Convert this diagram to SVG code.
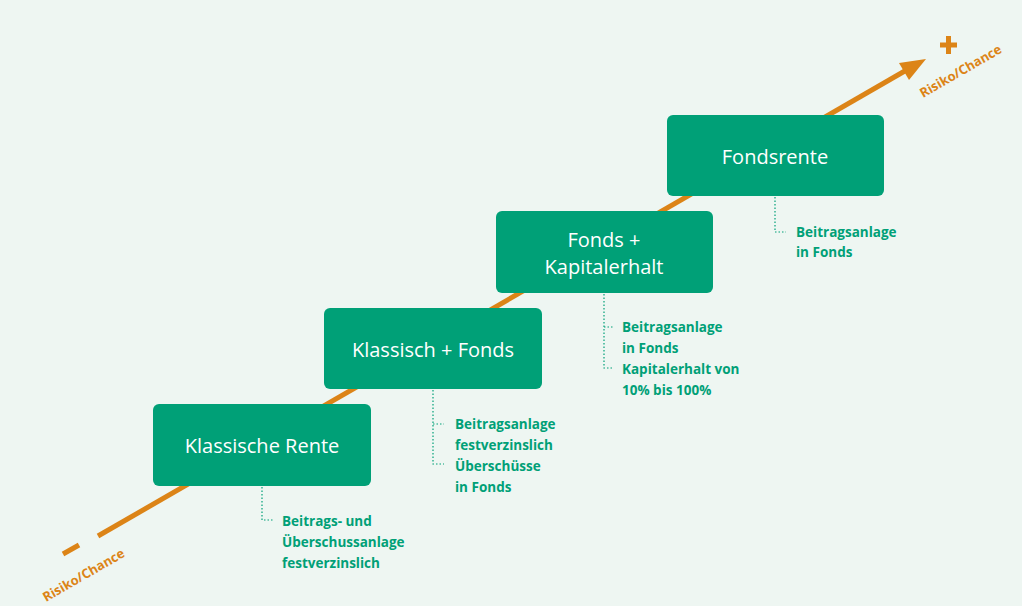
<svg xmlns="http://www.w3.org/2000/svg" width="1022" height="606" viewBox="0 0 1022 606">
<defs>
<style>
.box{fill:#00a077}
.bt{font-family:"Open Sans","Liberation Sans",sans-serif;font-size:20px;fill:#fff;text-anchor:middle}
.nt{font-family:"Open Sans","Liberation Sans",sans-serif;font-size:13.5px;font-weight:bold;fill:#00a077}
.dot{fill:none;stroke:#00a077;stroke-width:1.2;stroke-dasharray:1.5 2}
.ax{stroke:#dc8417;stroke-width:5;stroke-linecap:butt;fill:none}
.al{font-family:"Open Sans","Liberation Sans",sans-serif;font-size:13px;font-weight:bold;fill:#dc8417}
</style>
<marker id="ah" markerWidth="6" markerHeight="6" refX="3" refY="3" orient="auto" markerUnits="strokeWidth"><path d="M0,0 L6,3 L0,6 z" fill="#dc8417"/></marker>
</defs>
<rect width="1022" height="606" fill="#eef6f2"/>
<g id="axis">
<line class="ax" x1="98" y1="536" x2="910" y2="68"/>
<path d="M926,59 L899,63 L909,80 z" fill="#dc8417"/>
<line class="ax" x1="63" y1="554" x2="79" y2="545"/>
<path d="M940,45 L957,45 M948.5,36 L948.5,54" stroke="#dc8417" stroke-width="5"/>
<text class="al" transform="translate(46,602) rotate(-30)">Risiko/Chance</text>
<text class="al" transform="translate(923,98) rotate(-30)">Risiko/Chance</text>
</g>
<g id="connectors">
<path class="dot" d="M262,487 V520 H273"/>
<path class="dot" d="M433,390 V464 H444 M433,424 H444"/>
<path class="dot" d="M604,294 V368 H614 M604,327 H614"/>
<path class="dot" d="M775,197 V232 H786"/>
</g>
<g id="n1"><rect class="box" x="153" y="404" width="218" height="82" rx="6"/><text class="bt" x="262" y="453">Klassische Rente</text>
<text class="nt" x="282" y="526">Beitrags- und</text><text class="nt" x="282" y="547">Überschussanlage</text><text class="nt" x="282" y="568">festverzinslich</text></g>
<g id="n2"><rect class="box" x="324" y="308" width="218" height="81" rx="6"/><text class="bt" x="433" y="357">Klassisch + Fonds</text>
<text class="nt" x="455" y="429">Beitragsanlage</text><text class="nt" x="455" y="450">festverzinslich</text><text class="nt" x="455" y="471">Überschüsse</text><text class="nt" x="455" y="492">in Fonds</text></g>
<g id="n3"><rect class="box" x="496" y="211" width="217" height="82" rx="6"/><text class="bt" x="604" y="247">Fonds +</text><text class="bt" x="604" y="274">Kapitalerhalt</text>
<text class="nt" x="622" y="332">Beitragsanlage</text><text class="nt" x="622" y="353">in Fonds</text><text class="nt" x="622" y="374">Kapitalerhalt von</text><text class="nt" x="622" y="395">10% bis 100%</text></g>
<g id="n4"><rect class="box" x="667" y="115" width="217" height="81" rx="6"/><text class="bt" x="775" y="164">Fondsrente</text>
<text class="nt" x="796" y="237">Beitragsanlage</text><text class="nt" x="796" y="257">in Fonds</text></g>
</svg>
